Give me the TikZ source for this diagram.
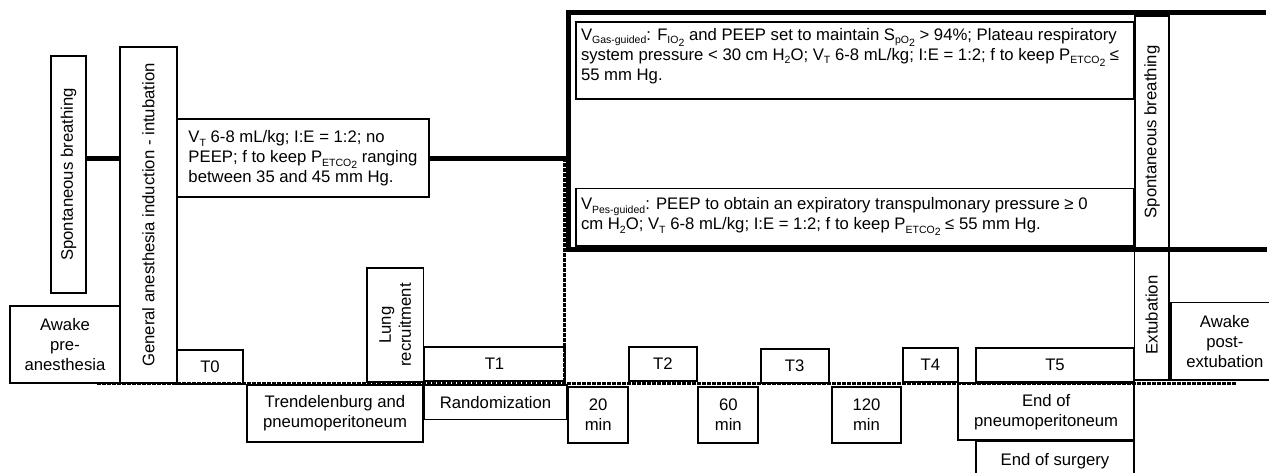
\documentclass[tikz,border=0pt]{standalone}
\usepackage{fontspec}
\setmainfont{Liberation Sans}
\newcommand\fs{\fontsize{16.7}{20}\selectfont}
\newcommand\sbs[1]{\raisebox{-0.22em}{\fontsize{10.5}{10.5}\selectfont #1}}
\begin{document}
\begin{tikzpicture}[x=1pt,y=-1pt,
  box/.style={draw, line width=1.8pt, inner sep=0pt, align=center, font=\fs},
  thk/.style={line width=5pt},
  tline/.style={line width=2.2pt, dash pattern=on 3.5pt off 1.5pt}]
\useasboundingbox (0,0) rectangle (1269,472);
% timeline and frame
\coordinate (tlL) at (97,383.5);
\coordinate (tlR) at (1237,383.5);
\coordinate (dvT) at (564.5,158.2);
\coordinate (fTR) at (1266,12.5);
\coordinate (fBL) at (568.7,249.5);
\coordinate (fBR) at (1267,249.5);
\draw[tline] (tlL) -- (tlR);
\draw[tline] (dvT) -- (dvT |- tlL);
\draw[thk] (fTR) -| (fBL) -- (fBR);
% boxes
\node[box, rotate=90, minimum width=237, minimum height=35] (spontL) at (68.5,174.5) {Spontaneous breathing};
\node[box, rotate=90, minimum width=336, minimum height=57] (ga) at (148.5,215) {General anesthesia induction - intubation};
\node[box, minimum width=110, minimum height=77] (awpre) at (65,344.5) {Awake\\pre-\\anesthesia};
\node[box, minimum width=252, minimum height=77.7, align=left] (vt) at (303,158.2)
  {V\sbs{T} 6-8 mL/kg; I:E = 1:2; no\\PEEP; f to keep P\sbs{ETCO\sbs{2}} ranging\\between 35 and 45 mm Hg.};
\node[box, minimum width=66, minimum height=34] (t0) at (210,367) {T0};
\node[box, minimum width=176, minimum height=57] (trend) at (335,413.5) {Trendelenburg and\\pneumoperitoneum};
\node[box, rotate=90, minimum width=114, minimum height=56.5] (lung) at (395.25,325) {Lung\\recruitment};
\node[box, minimum width=141, minimum height=34] (t1) at (494.5,364) {T1};
\node[box, minimum width=143, minimum height=34.5] (rand) at (495.5,402.25) {Randomization};
\node[box, minimum width=60.3, minimum height=56.6] (m20) at (598.2,415) {20\\min};
\node[box, minimum width=67.7, minimum height=34.3] (t2) at (662.85,363.85) {T2};
\node[box, minimum width=60, minimum height=56.6] (m60) at (728.3,415) {60\\min};
\node[box, minimum width=68, minimum height=34] (t3) at (794.7,365.7) {T3};
\node[box, minimum width=68.4, minimum height=56.6] (m120) at (866.5,415) {120\\min};
\node[box, minimum width=55.3, minimum height=34.3] (t4) at (930.35,364.85) {T4};
\node[box, minimum width=158.6, minimum height=34.3] (t5) at (1055,364.85) {T5};
\node[box, minimum width=176.3, minimum height=57] (endp) at (1046.15,411.8) {End of\\pneumoperitoneum};
\node[box, minimum width=158.6, minimum height=40.3] (ends) at (1055,460.85) {End of surgery};
\node[box, minimum width=558, minimum height=77] (gas) at (855,60.2)
  {\parbox[c][64pt][t]{548pt}{\fs\raggedright
   V\sbs{Gas-guided}: F\sbs{IO\sbs{2}} and PEEP set to maintain S\sbs{pO\sbs{2}} > 94\%; Plateau respiratory\\
   system pressure < 30 cm H\sbs{2}O; V\sbs{T} 6-8 mL/kg; I:E = 1:2; f to keep P\sbs{ETCO\sbs{2}} ≤\\
   55 mm Hg.}};
\node[box, minimum width=558, minimum height=57.5] (pes) at (855,217.25)
  {\parbox[c][39pt][t]{548pt}{\fs\raggedright
   V\sbs{Pes-guided}: PEEP to obtain an expiratory transpulmonary pressure ≥ 0\\
   cm H\sbs{2}O; V\sbs{T} 6-8 mL/kg; I:E = 1:2; f to keep P\sbs{ETCO\sbs{2}} ≤ 55 mm Hg.}};
\node[box, rotate=90, minimum width=232, minimum height=34] (spontR) at (1152,132) {Spontaneous breathing};
\node[box, rotate=90, minimum width=130, minimum height=34.5] (extub) at (1151.75,315) {Extubation};
\node[box, minimum width=108.3, minimum height=77.5] (awpost) at (1224.85,341.25) {Awake\\post-\\extubation};
% connectors
\draw[thk] (spontL.south |- vt.west) -- (ga.north |- vt.west);
\draw[thk] (vt.east) -- (vt.east -| fBL);
\end{tikzpicture}
\end{document}
